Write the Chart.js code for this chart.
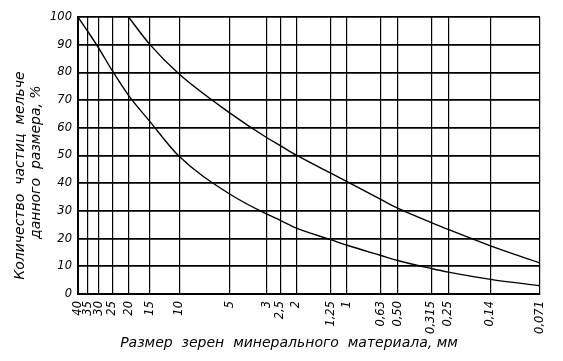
<!DOCTYPE html>
<html lang="ru">
<head>
    <meta charset="UTF-8">
    <title>Зерновой состав минерального материала</title>
    <script src="https://cdn.jsdelivr.net/npm/chart.js@4.4.1/dist/chart.umd.min.js"></script>
    <style>
        body { margin: 0; background: #fff; }
        canvas { display: block; }
    </style>
</head>
<body>
    <canvas id="grainChart" width="563" height="361"></canvas>

    <script>
        // размеры сит, мм (ось X идет от крупных к мелким)
        const sieveSizes = [40, 35, 30, 25, 20, 15, 10, 5, 3, 2.5, 2, 1.25, 1, 0.63, 0.5, 0.315, 0.25, 0.14, 0.071];
        const sieveLabels = ['40', '35', '30', '25', '20', '15', '10', '5', '3', '2,5', '2', '1,25', '1', '0,63', '0,50', '0,315', '0,25', '0,14', '0,071'];
        const percentTicks = [0, 10, 20, 30, 40, 50, 60, 70, 80, 90, 100];

        // верхняя граница (мелкозернистая смесь)
        const upperSizes = [20, 15, 10, 5, 3, 2.5, 2, 1.25, 1, 0.63, 0.5, 0.315, 0.25, 0.14, 0.071];
        const upperPassing = [100, 90.2, 79.4, 65.4, 56.4, 53.6, 50.1, 43.6, 40.6, 34.2, 31, 25.8, 23.3, 17.4, 11.2];

        // нижняя граница (крупнозернистая смесь)
        const lowerSizes = sieveSizes;
        const lowerPassing = [100, 94.8, 88.6, 80.6, 71.7, 62.4, 49.7, 36.1, 28.8, 26.6, 23.8, 19.6, 17.6, 13.9, 12.1, 9.2, 7.9, 5.3, 3];

        const toPoints = (xs, ys) => xs.map((x, i) => ({ x: x, y: ys[i] }));

        const tickFont = { family: 'DejaVu Sans', size: 11.5, style: 'italic' };
        const titleFont = { family: 'DejaVu Sans', size: 14, style: 'italic', lineHeight: 1.15 };
        const pad = (n) => '\u00A0'.repeat(n);

        new Chart(document.getElementById('grainChart'), {
            type: 'line',
            data: {
                datasets: [{
                    data: toPoints(upperSizes, upperPassing),
                    borderColor: '#000',
                    borderWidth: 1.4,
                    pointRadius: 0,
                    cubicInterpolationMode: 'monotone'
                }, {
                    data: toPoints(lowerSizes, lowerPassing),
                    borderColor: '#000',
                    borderWidth: 1.4,
                    pointRadius: 0,
                    cubicInterpolationMode: 'monotone'
                }]
            },
            options: {
                responsive: false,
                animation: false,
                layout: { padding: { top: 17, right: 23, left: 0, bottom: 0 } },
                plugins: {
                    legend: { display: false },
                    tooltip: { enabled: false }
                },
                scales: {
                    x: {
                        type: 'logarithmic',
                        reverse: true,
                        min: 0.071,
                        max: 40,
                        afterBuildTicks: (axis) => {
                            axis.ticks = sieveSizes.map(v => ({ value: v }));
                        },
                        afterFit: (axis) => { axis.height = 67; },
                        ticks: {
                            autoSkip: false,
                            maxRotation: 90,
                            minRotation: 90,
                            padding: 7,
                            color: '#000',
                            font: tickFont,
                            callback: (value) => sieveLabels[sieveSizes.indexOf(value)]
                        },
                        grid: { color: '#000', lineWidth: 1.2, drawTicks: false },
                        border: { color: '#000', width: 2 },
                        title: {
                            display: true,
                            text: 'Размер  зерен  минерального  материала, мм' + pad(9),
                            color: '#000',
                            font: titleFont,
                            padding: { top: 0, bottom: 10 }
                        }
                    },
                    y: {
                        min: 0,
                        max: 100,
                        afterBuildTicks: (axis) => {
                            axis.ticks = percentTicks.map(v => ({ value: v }));
                        },
                        afterFit: (axis) => { axis.width = 78; },
                        ticks: {
                            padding: 6,
                            color: '#000',
                            font: tickFont
                        },
                        grid: { color: '#000', lineWidth: 1.7, drawTicks: false },
                        border: { color: '#000', width: 2 },
                        title: {
                            display: true,
                            text: ['Количество  частиц  мельче' + pad(9), 'данного  размера, %' + pad(3)],
                            color: '#000',
                            font: titleFont,
                            padding: { top: 12, bottom: 0 }
                        }
                    }
                }
            }
        });
    </script>
</body>
</html>
